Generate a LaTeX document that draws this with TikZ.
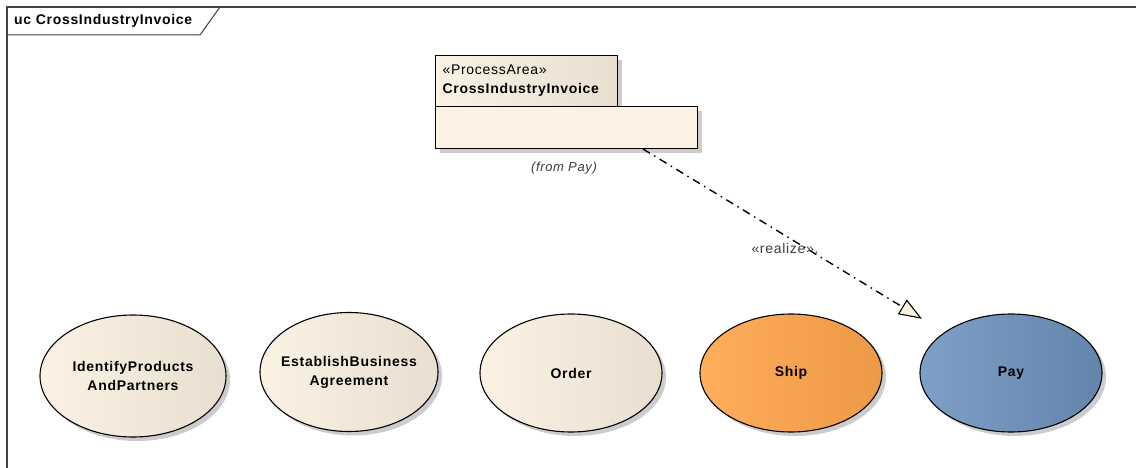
\documentclass[tikz,border=0pt]{standalone}
\usepackage{fontspec}
\setmainfont{Liberation Sans}
\newfontfamily\eafont[LetterSpace=5]{Liberation Sans}
\usetikzlibrary{shapes.geometric,shadows,arrows.meta}
\definecolor{creamlight}{RGB}{251,242,228}
\definecolor{creamdark}{RGB}{232,223,208}
\definecolor{shiplight}{RGB}{255,174,92}
\definecolor{shipdark}{RGB}{237,153,70}
\definecolor{paylight}{RGB}{127,160,198}
\definecolor{paydark}{RGB}{99,133,171}
\definecolor{framegray}{RGB}{64,64,64}
\definecolor{notegray}{RGB}{60,60,60}
\begin{document}
\begin{tikzpicture}[x=1pt,y=-1pt,
    eashadow/.style={drop shadow={shadow xshift=4pt,shadow yshift=-4pt,fill=black!40,opacity=0.5}},
    usecase/.style={ellipse,draw=black,line width=1.1pt,inner sep=-12pt,
      minimum width=182pt,minimum height=118pt,align=center,
      font=\eafont\bfseries\fontsize{14}{19}\selectfont,eashadow},
    creamcase/.style={usecase,left color=creamlight,right color=creamdark},
    shipcase/.style={usecase,left color=shiplight,right color=shipdark},
    paycase/.style={usecase,left color=paylight,right color=paydark},
    classhead/.style={rectangle,draw=black,line width=1.1pt,inner xsep=7pt,
      minimum width=182pt,minimum height=51pt,text width=168pt,align=left,
      left color=creamlight,right color=creamdark,
      font=\eafont\fontsize{14}{19}\selectfont,eashadow},
    classbody/.style={rectangle,draw=black,line width=1.1pt,
      minimum width=262pt,minimum height=42pt,fill=creamlight,eashadow},
    note/.style={text=notegray,inner sep=1pt,font=\eafont\fontsize{14}{16}\selectfont},
    realize/.style={line width=1.4pt,dash pattern=on 8pt off 5pt on 1.5pt off 5pt,
      -{Triangle[length=23pt,width=17pt,fill=creamlight,line width=1.1pt]},shorten >=26pt}]
  \useasboundingbox (0,0) rectangle (1136,468);
  % frame and its tab
  \draw[framegray,line width=1.3pt] (7,468) -- (7,7) -- (1136,7);
  \draw[framegray,line width=1pt] (7,35) -- (200,35) -- (220,7);
  \node[anchor=west,inner sep=0pt,font=\eafont\bfseries\fontsize{14}{16}\selectfont]
    (title) at (14,21) {uc CrossIndustryInvoice};
  % process area
  \node[classhead,anchor=north west] (head) at (435,55)
    {«ProcessArea»\\\textbf{CrossIndustryInvoice}};
  \node[classbody,anchor=north west] (body) at (435,106) {};
  \node[note,font=\eafont\itshape\fontsize{13}{15}\selectfont] (from) at (564,168) {(from Pay)};
  % use cases
  \draw
    (133,376) node[creamcase,minimum width=186pt,minimum height=122pt] (identify)
      {IdentifyProducts\\AndPartners}
    (349,372) node[creamcase,minimum width=178pt,minimum height=119pt] (establish)
      {EstablishBusiness\\Agreement}
    (571,373) node[creamcase] (order) {Order}
    (791,373) node[shipcase] (ship) {Ship}
    (1011,373) node[paycase] (pay) {Pay};
  \begin{scope}
    \coordinate (realstart) at (643,149);
    \draw[realize] (realstart) to (pay);
    \node[note] (realizelabel) at (785,248) {«realize».};
  \end{scope}
\end{tikzpicture}
\end{document}
